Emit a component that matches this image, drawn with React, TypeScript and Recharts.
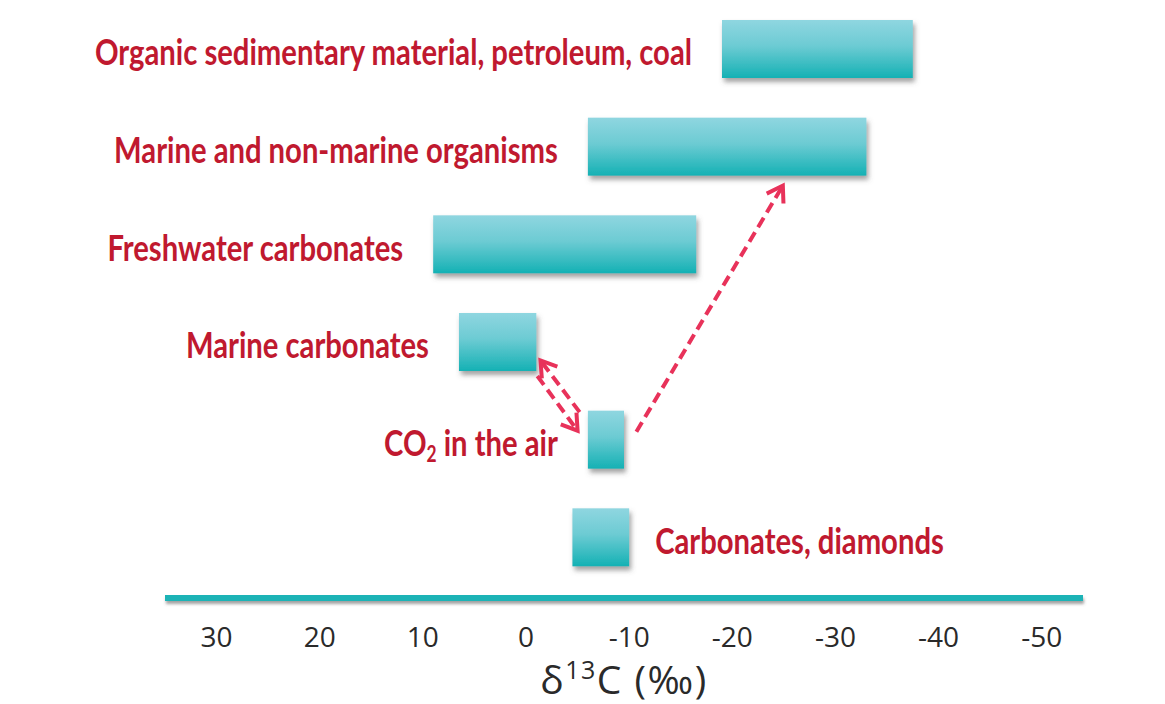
import React from 'react';
import { ComposedChart, Bar, XAxis, YAxis, LabelList, ReferenceLine } from 'recharts';

const categories = [
  'Organic sedimentary material, petroleum, coal',
  'Marine and non-marine organisms',
  'Freshwater carbonates',
  'Marine carbonates',
  'CO2 in the air',
  'Carbonates, diamonds',
];
const lowValues = [-19, -6, 9, 6.5, -6, -4.5];
const highValues = [-37.5, -33, -16.5, -1, -9.5, -10];
const xTicks = [30, 20, 10, 0, -10, -20, -30, -40, -50];
// arrows: x in δ13C units, y in row units (0 = top of first row, 6 = bottom of last row)
const arrowTails = [
  { x: -10.7, y: 4.42 },
  { x: -5.2, y: 4.22 },
  { x: -1.1, y: 3.85 },
];
const arrowHeads = [
  { x: -24.9, y: 1.9 },
  { x: -1.4, y: 3.69 },
  { x: -5.0, y: 4.41 },
];

const data = categories.map((name, i) => ({ name, range: [lowValues[i], highValues[i]] }));
const arrowPoints = [...arrowTails, ...arrowHeads];

const RED = '#c0192f';
const ARROW = '#e8325a';
const TEAL = '#1fb3b6';
const LABEL_FONT = 'Lato, "Open Sans", sans-serif';
const LABEL_SCALE = 0.79;
const W = 1165;
const H = 704;
const MARGIN_LEFT = 165;
const MARGIN_RIGHT = 82;
const ROWS_BOTTOM = 586;

const BarShape = (props: any) => {
  const { x, y, width, height } = props;
  const l = Math.min(x, x + width);
  const w = Math.abs(width);
  return <rect x={l} y={y} width={w} height={height} fill="url(#barGrad)" filter="url(#shadow)" />;
};

const BarLabel = (props: any) => {
  const { x, y, width, height, value, index } = props;
  const l = Math.min(x, x + width);
  const r = Math.max(x, x + width);
  const cy = y + height / 2 + 2;
  const right = index === categories.length - 1;
  const tx = right ? r + 26 : l - 30;
  const anchor = right ? 'start' : 'end';
  const common = {
    x: 0,
    y: 0,
    textAnchor: anchor as any,
    dominantBaseline: 'central' as any,
    fill: RED,
    fontFamily: LABEL_FONT,
    fontSize: 37,
    fontWeight: 700,
  };
  let content: any = value;
  if (typeof value === 'string' && value.startsWith('CO2')) {
    content = (
      <>
        <tspan>CO</tspan>
        <tspan fontSize={22} dy={11}>2</tspan>
        <tspan dy={-11}>{value.slice(3)}</tspan>
      </>
    );
  }
  return (
    <g transform={`translate(${tx},${cy}) scale(${LABEL_SCALE},1)`}>
      <text {...common}>{content}</text>
    </g>
  );
};

const Arrow = (props: any) => {
  const { x1, y1, x2, y2 } = props;
  const ang = Math.atan2(y2 - y1, x2 - x1);
  const h = 18;
  const a = Math.PI / 5.5;
  const p1x = x2 - h * Math.cos(ang - a);
  const p1y = y2 - h * Math.sin(ang - a);
  const p2x = x2 - h * Math.cos(ang + a);
  const p2y = y2 - h * Math.sin(ang + a);
  return (
    <g>
      <line x1={x1} y1={y1} x2={x2} y2={y2} stroke={ARROW} strokeWidth={4} strokeDasharray="11 6" />
      <polyline
        points={`${p1x},${p1y} ${x2},${y2} ${p2x},${p2y}`}
        fill="none"
        stroke={ARROW}
        strokeWidth={4}
        strokeLinejoin="miter"
      />
    </g>
  );
};

const Tick = (props: any) => {
  const { x, y, payload } = props;
  return (
    <text x={x} y={y + 49} textAnchor="middle" fill="#2a2a2a" fontFamily='"Open Sans", sans-serif' fontSize={28}>
      {payload.value}
    </text>
  );
};

const AxisTitle = (props: any) => {
  const vb = props.viewBox || {};
  const cx = vb.x + vb.width / 2;
  return (
    <text
      x={cx}
      y={694}
      textAnchor="middle"
      fill="#2a2a2a"
      fontFamily='"Open Sans", sans-serif'
      fontSize={39}
      letterSpacing={1.5}
    >
      <tspan>δ</tspan>
      <tspan fontSize={25} dy={-15}>13</tspan>
      <tspan dy={15}>C (‰)</tspan>
    </text>
  );
};

export default function App() {
  return (
    <div style={{ position: 'absolute', left: 0, top: 0, width: W, height: H, background: '#fff' }}>
      <div style={{ position: 'absolute', left: 0, top: 0 }}>
        <ComposedChart
          width={W}
          height={H}
          data={data}
          layout="vertical"
          margin={{ top: 0, right: MARGIN_RIGHT, bottom: 0, left: MARGIN_LEFT }}
        >
          <defs>
            <linearGradient id="barGrad" x1="0" y1="0" x2="0" y2="1">
              <stop offset="0%" stopColor="#8fd6e0" />
              <stop offset="45%" stopColor="#6ccbd3" />
              <stop offset="100%" stopColor="#14b1b4" />
            </linearGradient>
            <filter id="shadow" x="-10%" y="-20%" width="130%" height="160%">
              <feDropShadow dx="2" dy="4" stdDeviation="2.5" floodColor="#555" floodOpacity="0.55" />
            </filter>
            <filter id="lineShadow" filterUnits="userSpaceOnUse" x="0" y="560" width="1165" height="80">
              <feDropShadow dx="1" dy="3" stdDeviation="1.5" floodColor="#666" floodOpacity="0.6" />
            </filter>
          </defs>
          <XAxis
            type="number"
            domain={[-54, 35]}
            reversed
            ticks={xTicks}
            allowDataOverflow
            height={106}
            tickLine={false}
            tickSize={0}
            tickMargin={0}
            tick={<Tick />}
            interval={0}
            axisLine={{ stroke: TEAL, strokeWidth: 6, filter: 'url(#lineShadow)' }}
            label={<AxisTitle />}
          />
          <YAxis type="category" dataKey="name" hide padding={{ top: 0, bottom: 12 }} />
          <Bar dataKey="range" barSize={58} shape={<BarShape />} isAnimationActive={false}>
            <LabelList dataKey="name" content={<BarLabel />} />
          </Bar>
        </ComposedChart>
      </div>
      <div style={{ position: 'absolute', left: 0, top: 0, pointerEvents: 'none' }}>
        <ComposedChart
          width={W}
          height={H}
          data={arrowPoints}
          margin={{ top: 0, right: MARGIN_RIGHT, bottom: H - ROWS_BOTTOM, left: MARGIN_LEFT }}
        >
          <XAxis type="number" dataKey="x" domain={[-54, 35]} reversed allowDataOverflow hide />
          <YAxis type="number" dataKey="y" domain={[0, 6]} reversed allowDataOverflow hide />
          {arrowTails.map((t, i) => (
            <ReferenceLine
              key={i}
              segment={[
                { x: t.x, y: t.y },
                { x: arrowHeads[i].x, y: arrowHeads[i].y },
              ]}
              shape={<Arrow />}
              ifOverflow="visible"
            />
          ))}
        </ComposedChart>
      </div>
    </div>
  );
}
